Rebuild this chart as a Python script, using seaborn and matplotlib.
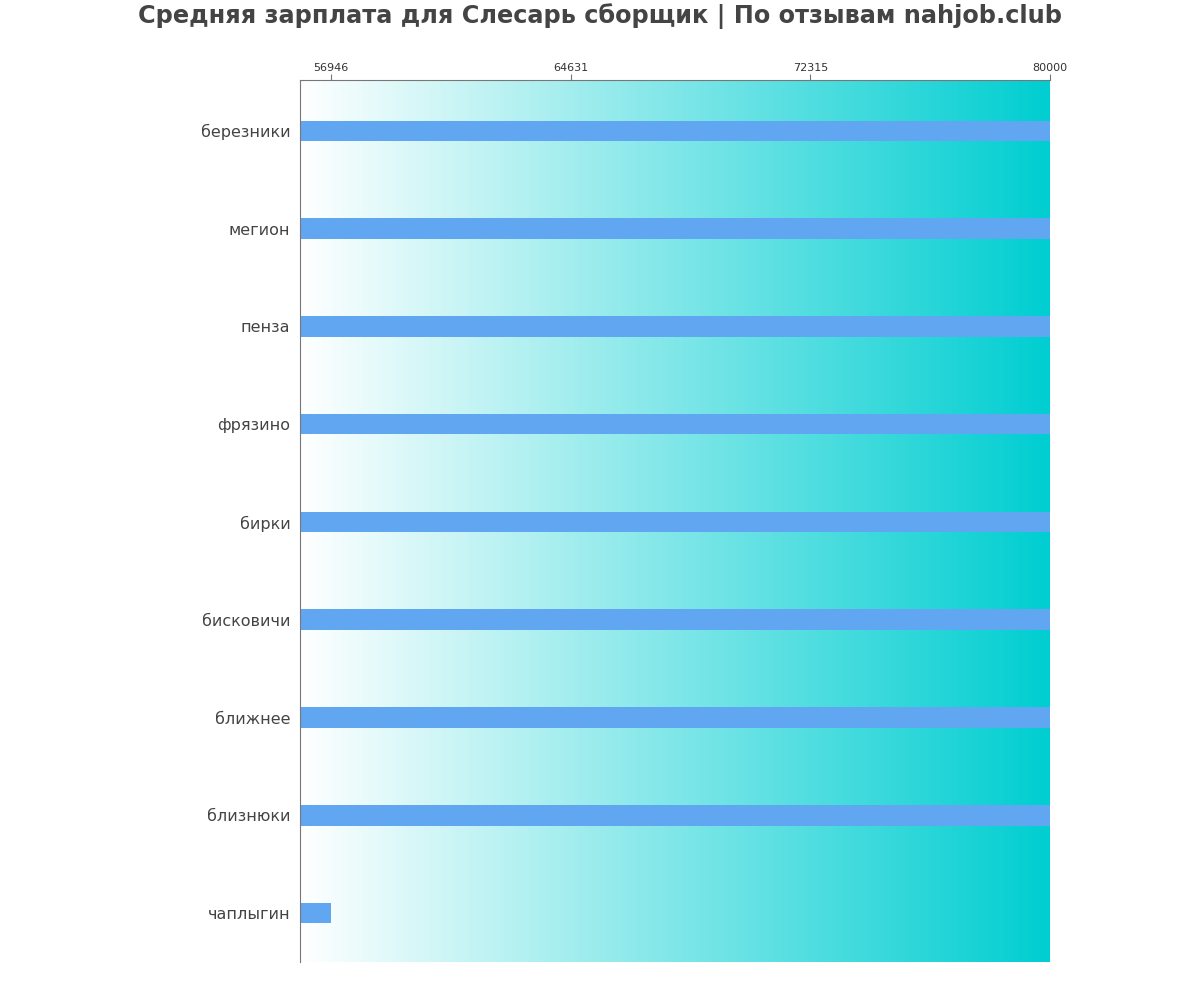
import matplotlib
matplotlib.use("Agg")
import matplotlib.pyplot as plt
import seaborn as sns
import numpy as np
import pandas as pd
from matplotlib.colors import LinearSegmentedColormap

cities = ["березники", "мегион", "пенза", "фрязино", "бирки", "бисковичи",
          "ближнее", "близнюки", "чаплыгин"]
salaries = [80000, 80000, 80000, 80000, 80000, 80000, 80000, 80000, 56946]
tick_values = [56946, 64631, 72315, 80000]
tick_labels = ["56946", "64631", "72315", "80000"]
title = "Средняя зарплата для Слесарь сборщик | По отзывам nahjob.club"

sns.set_theme(style="white")
plt.rcParams['font.family'] = ['DejaVu Sans']

df = pd.DataFrame({"city": cities, "salary": salaries})

fig = plt.figure(figsize=(12, 10), dpi=100)
ax = fig.add_axes([0.25, 0.038, 0.625, 0.882])

x0, x1 = 55955, 80000
# gradient background
cmap = LinearSegmentedColormap.from_list("grad", ["#ffffff", "#00ced1"], N=256)
grad = np.linspace(0, 1, 256).reshape(1, -1)
ax.imshow(grad, aspect="auto", cmap=cmap, extent=[x0, x1, 8.52, -0.52],
          zorder=0, interpolation="bilinear")

sns.barplot(data=df, y="city", x="salary", orient="h", color="#61a6f1",
            saturation=1, width=0.21, ax=ax, zorder=2, linewidth=0, edgecolor="none")

ax.set_xlim(x0, x1)
ax.set_ylim(8.5, -0.52)
ax.xaxis.tick_top()
ax.set_xticks(tick_values)
ax.set_xticklabels(tick_labels, fontsize=8, color="#333333")
ax.tick_params(axis="x", length=4, width=0.8, color="#777777", pad=1, bottom=False, top=True)
ax.tick_params(axis="y", length=0, labelsize=11.5, labelcolor="#444444", pad=7)
ax.set_xlabel("")
ax.set_ylabel("")
for s in ["right", "bottom"]:
    ax.spines[s].set_visible(False)
for s in ["left", "top"]:
    ax.spines[s].set_visible(True)
    ax.spines[s].set_color("#777777")
    ax.spines[s].set_linewidth(0.8)

fig.suptitle(title, fontsize=17.3, fontweight="bold", color="#444444", y=0.997, va="top")

fig.savefig("out.png", dpi=100)
